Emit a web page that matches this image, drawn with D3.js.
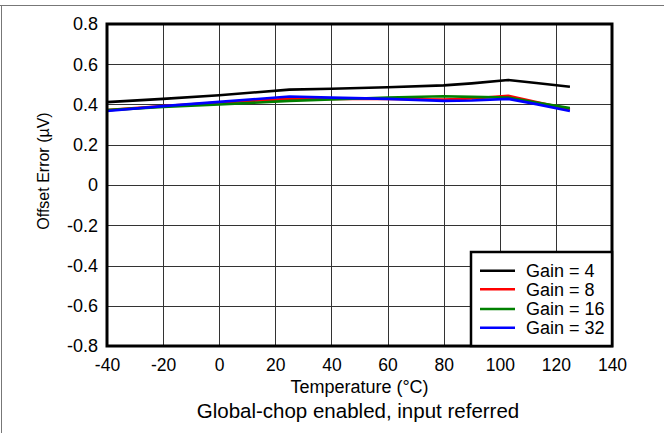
<!DOCTYPE html>
<html><head><meta charset="utf-8">
<script src="https://cdn.jsdelivr.net/npm/d3@7"></script>
<style>body{margin:0;background:#fff}svg{display:block}text{font-family:"Liberation Sans",Arial,sans-serif;fill:#000}</style>
</head><body><svg id="c" width="664" height="433"></svg>
<script>
const temps = [-40, -20, 0, 25, 40, 60, 80, 90, 103, 113, 125];
const gain4  = [0.412, 0.428, 0.446, 0.474, 0.478, 0.486, 0.495, 0.505, 0.522, 0.507, 0.488];
const gain8  = [0.372, 0.392, 0.410, 0.428, 0.428, 0.427, 0.425, 0.430, 0.443, 0.412, 0.376];
const gain16 = [0.372, 0.388, 0.400, 0.418, 0.425, 0.435, 0.441, 0.438, 0.435, 0.410, 0.382];
const gain32 = [0.368, 0.392, 0.413, 0.440, 0.434, 0.428, 0.418, 0.420, 0.428, 0.402, 0.368];
const seriesNames = ["Gain = 4", "Gain = 8", "Gain = 16", "Gain = 32"];
const seriesColors = ["#000000", "#ff0000", "#008000", "#0000ff"];
const xTicks = [-40, -20, 0, 20, 40, 60, 80, 100, 120, 140];
const yTicks = [-0.8, -0.6, -0.4, -0.2, 0, 0.2, 0.4, 0.6, 0.8];
const xTitle = "Temperature (°C)";
const yTitle = "Offset Error (µV)";
const subtitle = "Global-chop enabled, input referred";

const svg = d3.select("#c");
const L = 107, R = 612, T = 24, B = 346;
const x = d3.scaleLinear().domain([-40, 140]).range([L, R]);
const y = d3.scaleLinear().domain([-0.8, 0.8]).range([B, T]);
const FONT = '"Liberation Sans",Arial,sans-serif';

// outer frame lines
svg.append("line").attr("x1", 0).attr("x2", 664).attr("y1", 5.5).attr("y2", 5.5).attr("stroke", "#777").attr("stroke-width", 1);
svg.append("line").attr("x1", 1.5).attr("x2", 1.5).attr("y1", 5.5).attr("y2", 433).attr("stroke", "#777").attr("stroke-width", 1);

// grid
const g = svg.append("g");
g.selectAll(".vg").data(xTicks.slice(1, -1)).enter().append("line")
  .attr("x1", d => Math.round(x(d)) + 0.5).attr("x2", d => Math.round(x(d)) + 0.5)
  .attr("y1", T).attr("y2", B).attr("stroke", "#333").attr("stroke-width", 1);
g.selectAll(".hg").data(yTicks.slice(1, -1)).enter().append("line")
  .attr("y1", d => Math.round(y(d)) + 0.5).attr("y2", d => Math.round(y(d)) + 0.5)
  .attr("x1", L).attr("x2", R).attr("stroke", "#333").attr("stroke-width", 1);

// axes (labels only, via d3 axes); hyphen-minus as in reference
const hy = s => String(s).replace("\u2212", "-");
const xAxis = svg.append("g").attr("transform", `translate(0,${B})`)
  .call(d3.axisBottom(x).tickValues(xTicks).tickSize(0).tickPadding(13).tickFormat(d => hy(d3.format("d")(d))));
xAxis.select(".domain").remove();
xAxis.selectAll("text").attr("font-size", 17.5).attr("font-family", FONT).attr("fill", "#000");
const yAxis = svg.append("g").attr("transform", `translate(${L},0)`)
  .call(d3.axisLeft(y).tickValues(yTicks).tickSize(0).tickPadding(9).tickFormat(d => d === 0 ? "0" : hy(d3.format(".1f")(d))));
yAxis.select(".domain").remove();
yAxis.selectAll("text").attr("font-size", 18).attr("font-family", FONT).attr("fill", "#000");

// data lines
const datasets = [gain4, gain8, gain16, gain32];
const line = d3.line().x(d => x(d[0])).y(d => y(d[1]));
datasets.forEach((vals, i) => {
  svg.append("path").datum(temps.map((t, j) => [t, vals[j]]))
    .attr("d", line).attr("fill", "none").attr("stroke", seriesColors[i])
    .attr("stroke-width", 2.6).attr("stroke-linejoin", "round");
});

// plot border
svg.append("rect").attr("x", L).attr("y", T).attr("width", R - L).attr("height", B - T)
  .attr("fill", "none").attr("stroke", "#000").attr("stroke-width", 3);

// legend
const lg = svg.append("g");
lg.append("rect").attr("x", 471).attr("y", 252).attr("width", R - 471).attr("height", B - 252)
  .attr("fill", "#fff").attr("stroke", "#000").attr("stroke-width", 2.5);
const rowY = [270.7, 289.3, 309, 327.7];
seriesNames.forEach((n, i) => {
  lg.append("line").attr("x1", 480).attr("x2", 515).attr("y1", rowY[i]).attr("y2", rowY[i])
    .attr("stroke", seriesColors[i]).attr("stroke-width", 2.6);
  lg.append("text").attr("x", 526).attr("y", rowY[i]).attr("dy", "0.35em").attr("font-size", 18).text(n);
});

// titles
svg.append("text").attr("x", (L + R) / 2).attr("y", 393).attr("text-anchor", "middle").attr("font-size", 18).text(xTitle);
svg.append("text").attr("transform", "translate(49,171) rotate(-90)").attr("text-anchor", "middle").attr("font-size", 16).text(yTitle);
svg.append("text").attr("x", 358).attr("y", 418).attr("text-anchor", "middle").attr("font-size", 20.5).text(subtitle);
</script></body></html>
